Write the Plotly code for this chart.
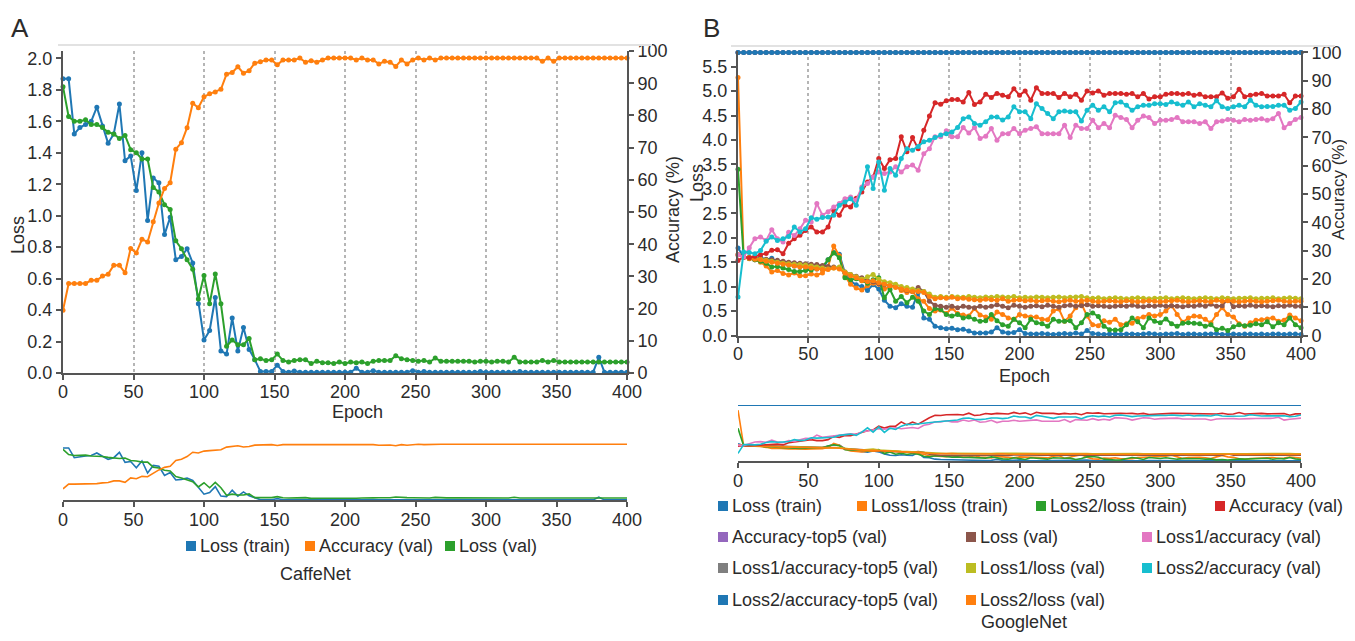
import plotly.graph_objects as go

# The page body has an 8px margin; the figure is sized so the whole page fits the window.
OFF = 8
FW, FH = 1355 - 2 * OFF, 641 - 2 * OFF
def px(x): return (x - OFF) / FW
def py(y): return 1 - (y - OFF) / FH

epochs = list(range(0, 401, 4))

# ---------------- CaffeNet (panel A) ----------------
caffe_loss_train = [
    1.87, 1.87, 1.52, 1.56, 1.58, 1.60, 1.69, 1.57, 1.46, 1.52,
    1.71, 1.35, 1.38, 1.16, 1.40, 0.97, 1.24, 1.21, 0.88, 0.99,
    0.72, 0.74, 0.79, 0.70, 0.44, 0.21, 0.27, 0.48, 0.14, 0.12,
    0.35, 0.14, 0.29, 0.15, 0.085, 0.01, 0.01, 0.01, 0.05, 0.01,
    0.005, 0.012, 0.005, 0.005, 0.005, 0.005, 0.005, 0.005, 0.005, 0.005,
    0.005, 0.005, 0.03, 0.005, 0.005, 0.015, 0.005, 0.005, 0.005, 0.005,
    0.005, 0.005, 0.015, 0.005, 0.01, 0.005, 0.005, 0.005, 0.005, 0.005,
    0.005, 0.005, 0.005, 0.005, 0.01, 0.005, 0.005, 0.005, 0.005, 0.005,
    0.005, 0.01, 0.005, 0.005, 0.005, 0.005, 0.005, 0.005, 0.005, 0.005,
    0.005, 0.005, 0.005, 0.005, 0.005, 0.10, 0.005, 0.005, 0.005, 0.005,
    0.005]
caffe_acc_val = [
    19.5, 27.8, 27.8, 27.8, 27.8, 28.8, 28.8, 30.1, 30.7, 33.5,
    33.5, 31.1, 38.7, 37.3, 41.5, 40.7, 47.0, 52.8, 57.3, 59.1,
    69.5, 71.5, 76.2, 83.8, 82.4, 85.8, 86.7, 87.3, 88.1, 92.8,
    93.3, 95.1, 93.1, 93.9, 96.2, 96.7, 97.2, 97.2, 95.7, 97.2,
    97.2, 97.2, 97.8, 96.5, 97.0, 96.5, 97.2, 97.8, 97.8, 97.8,
    97.8, 97.8, 97.2, 97.8, 97.2, 97.2, 96.0, 96.8, 96.5, 95.2,
    97.2, 96.0, 97.2, 97.8, 97.2, 97.8, 97.2, 97.8, 97.8, 97.8,
    97.8, 97.8, 97.8, 97.8, 97.8, 97.8, 97.8, 97.8, 97.8, 97.8,
    97.8, 97.8, 97.8, 97.8, 97.8, 96.8, 97.8, 96.8, 97.8, 97.8,
    97.8, 97.8, 97.8, 97.8, 97.8, 97.8, 97.8, 97.8, 97.8, 97.8,
    97.8]
caffe_loss_val = [
    1.82, 1.63, 1.60, 1.60, 1.61, 1.58, 1.58, 1.56, 1.53, 1.52,
    1.49, 1.51, 1.42, 1.40, 1.36, 1.36, 1.18, 1.15, 1.07, 1.04,
    0.84, 0.79, 0.72, 0.66, 0.47, 0.62, 0.44, 0.63, 0.44, 0.17,
    0.21, 0.18, 0.18, 0.22, 0.085, 0.09, 0.08, 0.085, 0.12, 0.08,
    0.07, 0.08, 0.085, 0.085, 0.06, 0.075, 0.065, 0.065, 0.06, 0.07,
    0.06, 0.07, 0.065, 0.07, 0.06, 0.075, 0.08, 0.08, 0.08, 0.11,
    0.09, 0.085, 0.08, 0.075, 0.08, 0.07, 0.095, 0.075, 0.075, 0.075,
    0.075, 0.075, 0.075, 0.07, 0.075, 0.075, 0.07, 0.075, 0.075, 0.07,
    0.10, 0.07, 0.07, 0.07, 0.07, 0.08, 0.07, 0.08, 0.07, 0.07,
    0.07, 0.07, 0.07, 0.07, 0.07, 0.07, 0.07, 0.07, 0.07, 0.07,
    0.07]

# ---------------- GoogleNet (panel B) ----------------
gn_loss_train = [
    1.79, 1.61, 1.58, 1.55, 1.60, 1.55, 1.58, 1.50, 1.50, 1.45,
    1.42, 1.42, 1.40, 1.38, 1.36, 1.35, 1.55, 1.70, 1.66, 1.28,
    1.11, 1.04, 1.00, 0.92, 1.04, 0.95, 0.72, 0.60, 0.57, 0.65,
    0.60, 0.58, 0.88, 0.36, 0.33, 0.19, 0.16, 0.14, 0.15, 0.12,
    0.13, 0.09, 0.05, 0.05, 0.05, 0.07, 0.16, 0.07, 0.05, 0.06,
    0.12, 0.04, 0.03, 0.03, 0.04, 0.03, 0.02, 0.03, 0.04, 0.03,
    0.05, 0.03, 0.10, 0.04, 0.03, 0.02, 0.03, 0.03, 0.02, 0.03,
    0.03, 0.02, 0.03, 0.04, 0.03, 0.02, 0.03, 0.03, 0.04, 0.02,
    0.03, 0.03, 0.02, 0.03, 0.03, 0.04, 0.02, 0.03, 0.03, 0.02,
    0.03, 0.03, 0.02, 0.03, 0.02, 0.03, 0.03, 0.02, 0.03, 0.03,
    0.02]
gn_loss1_train = [
    5.28, 1.60, 1.57, 1.55, 1.50, 1.42, 1.30, 1.33, 1.27, 1.24,
    1.28, 1.22, 1.22, 1.26, 1.24, 1.28, 1.40, 1.83, 1.63, 1.21,
    1.05, 0.97, 0.93, 1.02, 1.07, 1.05, 0.95, 1.00, 1.02, 0.92,
    0.88, 0.90, 0.75, 0.70, 0.55, 0.50, 0.52, 0.45, 0.56, 0.45,
    0.42, 0.40, 0.55, 0.42, 0.38, 0.33, 0.48, 0.43, 0.36, 0.33,
    0.43, 0.40, 0.38, 0.38, 0.33, 0.32, 0.50, 0.54, 0.29, 0.40,
    0.57, 0.65, 0.40, 0.22, 0.20, 0.30, 0.27, 0.33, 0.22, 0.24,
    0.25, 0.35, 0.38, 0.43, 0.40, 0.43, 0.50, 0.61, 0.43, 0.27,
    0.36, 0.40, 0.39, 0.33, 0.26, 0.43, 0.57, 0.43, 0.38, 0.24,
    0.19, 0.26, 0.31, 0.32, 0.34, 0.36, 0.29, 0.31, 0.42, 0.36,
    0.30]
gn_loss2_train = [
    3.40, 1.60, 1.58, 1.55, 1.52, 1.48, 1.40, 1.41, 1.38, 1.35,
    1.31, 1.31, 1.33, 1.34, 1.37, 1.41, 1.55, 1.69, 1.59, 1.18,
    1.14, 1.16, 1.12, 1.07, 1.14, 1.18, 0.77, 0.94, 0.70, 0.80,
    0.67, 0.78, 0.70, 0.50, 0.43, 0.55, 0.53, 0.43, 0.40, 0.43,
    0.36, 0.38, 0.33, 0.29, 0.30, 0.43, 0.30, 0.22, 0.19, 0.33,
    0.26, 0.16, 0.33, 0.26, 0.24, 0.19, 0.33, 0.29, 0.29, 0.30,
    0.16, 0.26, 0.43, 0.46, 0.39, 0.19, 0.12, 0.11, 0.12, 0.22,
    0.36, 0.28, 0.16, 0.36, 0.29, 0.26, 0.34, 0.24, 0.19, 0.25,
    0.26, 0.25, 0.24, 0.19, 0.22, 0.12, 0.15, 0.10, 0.18, 0.22,
    0.20, 0.21, 0.24, 0.22, 0.28, 0.18, 0.26, 0.22, 0.36, 0.22,
    0.16]
gn_acc = [
    26.5, 27.7, 27.5, 28.0, 28.5, 29.0, 30.1, 30.3, 28.9, 32.6,
    34.2, 35.4, 37.1, 38.3, 36.6, 36.6, 38.3, 44.2, 42.5, 46.0,
    45.4, 48.5, 50.7, 54.2, 56.0, 62.5, 59.0, 62.1, 62.5, 70.2,
    64.9, 69.9, 66.0, 72.5, 77.5, 82.2, 81.7, 82.9, 83.4, 83.4,
    82.5, 85.8, 81.6, 82.5, 85.2, 84.1, 85.5, 84.9, 84.3, 87.2,
    84.9, 86.4, 83.1, 87.5, 85.5, 85.5, 85.5, 84.1, 85.5, 84.3,
    85.2, 83.1, 86.4, 85.7, 86.4, 84.9, 85.5, 85.5, 85.5, 85.2,
    85.5, 84.3, 85.5, 83.5, 84.3, 84.3, 85.2, 85.5, 85.5, 85.2,
    85.5, 84.9, 85.2, 84.3, 84.3, 84.3, 85.7, 83.8, 84.3, 87.0,
    84.3, 84.9, 85.2, 85.5, 84.6, 84.6, 84.6, 85.2, 82.2, 84.6,
    84.6]
gn_acc_top5 = [
    100, 100, 100, 100, 100, 100, 100, 100, 100, 100,
    100, 100, 100, 100, 100, 100, 100, 100, 100, 100,
    100, 100, 100, 100, 100, 100, 100, 100, 100, 100,
    100, 100, 100, 100, 100, 100, 100, 100, 100, 100,
    100, 100, 100, 100, 100, 100, 100, 100, 100, 100,
    100, 100, 100, 100, 100, 100, 100, 100, 100, 100,
    100, 100, 100, 100, 100, 100, 100, 100, 100, 100,
    100, 100, 100, 100, 100, 100, 100, 100, 100, 100,
    100, 100, 100, 100, 100, 100, 100, 100, 100, 100,
    100, 100, 100, 100, 100, 100, 100, 100, 100, 100,
    100]
gn_loss_val = [
    1.65, 1.61, 1.60, 1.58, 1.57, 1.56, 1.55, 1.54, 1.52, 1.50,
    1.49, 1.48, 1.47, 1.46, 1.45, 1.43, 1.41, 1.40, 1.38, 1.30,
    1.25, 1.21, 1.18, 1.12, 1.10, 1.06, 1.04, 1.02, 1.00, 0.95,
    0.92, 0.90, 0.98, 0.90, 0.70, 0.62, 0.60, 0.58, 0.60, 0.57,
    0.60, 0.58, 0.57, 0.60, 0.58, 0.60, 0.63, 0.60, 0.57, 0.62,
    0.60, 0.58, 0.60, 0.61, 0.59, 0.62, 0.60, 0.58, 0.61, 0.62,
    0.60, 0.61, 0.63, 0.60, 0.61, 0.60, 0.59, 0.60, 0.61, 0.60,
    0.62, 0.60, 0.59, 0.61, 0.60, 0.62, 0.60, 0.61, 0.60, 0.59,
    0.61, 0.60, 0.62, 0.60, 0.64, 0.60, 0.61, 0.75, 0.59, 0.61,
    0.60, 0.62, 0.60, 0.61, 0.60, 0.59, 0.61, 0.60, 0.62, 0.60,
    0.60]
gn_loss1_acc = [
    28.5, 27.7, 31.0, 34.2, 34.8, 33.6, 37.4, 34.2, 33.0, 36.5,
    35.3, 37.7, 40.7, 40.1, 46.6, 42.5, 43.7, 45.4, 46.6, 48.3,
    48.9, 47.8, 52.5, 53.7, 56.0, 57.8, 57.2, 57.8, 59.6, 57.8,
    59.6, 60.2, 58.4, 64.2, 66.0, 70.2, 70.2, 72.3, 70.2, 70.2,
    73.5, 71.5, 73.5, 69.6, 70.4, 73.1, 69.0, 71.3, 71.3, 73.1,
    71.3, 72.5, 73.1, 73.7, 71.3, 71.3, 71.3, 71.3, 74.3, 69.9,
    74.3, 73.1, 73.1, 76.0, 73.4, 74.9, 73.4, 77.8, 77.0, 76.3,
    73.4, 76.0, 77.5, 77.0, 74.9, 76.0, 76.0, 76.3, 77.0, 75.5,
    75.5, 75.5, 74.9, 75.5, 73.1, 75.5, 75.8, 76.3, 76.0, 75.5,
    76.3, 76.0, 76.3, 76.6, 76.0, 76.6, 78.4, 73.4, 74.9, 76.3,
    77.0]
gn_loss1_acc_top5 = [
    100, 100, 100, 100, 100, 100, 100, 100, 100, 100,
    100, 100, 100, 100, 100, 100, 100, 100, 100, 100,
    100, 100, 100, 100, 100, 100, 100, 100, 100, 100,
    100, 100, 100, 100, 100, 100, 100, 100, 100, 100,
    100, 100, 100, 100, 100, 100, 100, 100, 100, 100,
    100, 100, 100, 100, 100, 100, 100, 100, 100, 100,
    100, 100, 100, 100, 100, 100, 100, 100, 100, 100,
    100, 100, 100, 100, 100, 100, 100, 100, 100, 100,
    100, 100, 100, 100, 100, 100, 100, 100, 100, 100,
    100, 100, 100, 100, 100, 100, 100, 100, 100, 100,
    100]
gn_loss1_loss_val = [
    1.65, 1.61, 1.60, 1.58, 1.56, 1.54, 1.52, 1.50, 1.48, 1.47,
    1.46, 1.45, 1.44, 1.42, 1.40, 1.38, 1.36, 1.38, 1.40, 1.30,
    1.25, 1.20, 1.15, 1.20, 1.25, 1.15, 1.10, 1.08, 1.05, 1.00,
    0.98, 0.95, 0.92, 0.90, 0.85, 0.78, 0.80, 0.78, 0.80, 0.79,
    0.78, 0.80, 0.78, 0.77, 0.79, 0.78, 0.80, 0.79, 0.78, 0.80,
    0.77, 0.78, 0.77, 0.79, 0.78, 0.77, 0.78, 0.79, 0.77, 0.78,
    0.79, 0.80, 0.77, 0.76, 0.77, 0.75, 0.76, 0.77, 0.76, 0.75,
    0.76, 0.77, 0.76, 0.75, 0.76, 0.76, 0.77, 0.75, 0.76, 0.77,
    0.76, 0.75, 0.76, 0.77, 0.76, 0.75, 0.77, 0.76, 0.75, 0.76,
    0.76, 0.77, 0.75, 0.76, 0.76, 0.77, 0.75, 0.76, 0.77, 0.76,
    0.75]
gn_loss2_acc = [
    13.6, 29.5, 29.3, 28.9, 30.0, 33.3, 34.8, 33.6, 34.2, 35.0,
    38.3, 36.6, 37.7, 41.6, 41.1, 41.7, 41.9, 42.5, 46.0, 47.2,
    48.3, 46.0, 51.9, 59.6, 51.9, 61.3, 51.3, 59.0, 56.6, 62.5,
    66.0, 65.4, 66.8, 68.4, 69.0, 69.9, 70.8, 71.3, 71.9, 73.5,
    76.6, 77.2, 74.9, 74.3, 75.5, 77.2, 77.2, 76.1, 77.2, 80.8,
    79.0, 79.0, 76.6, 81.9, 80.2, 78.4, 76.6, 79.0, 79.3, 79.0,
    79.0, 75.8, 79.6, 81.3, 79.6, 80.8, 79.0, 82.2, 82.5, 81.3,
    79.6, 80.8, 81.3, 81.3, 81.9, 81.9, 81.6, 82.5, 81.9, 81.3,
    82.5, 80.8, 81.9, 81.3, 80.8, 82.9, 80.8, 80.2, 80.8, 81.3,
    80.8, 83.1, 81.3, 80.8, 80.9, 80.9, 81.3, 81.3, 79.6, 80.2,
    82.5]
gn_loss2_acc_top5 = [
    100, 100, 100, 100, 100, 100, 100, 100, 100, 100,
    100, 100, 100, 100, 100, 100, 100, 100, 100, 100,
    100, 100, 100, 100, 100, 100, 100, 100, 100, 100,
    100, 100, 100, 100, 100, 100, 100, 100, 100, 100,
    100, 100, 100, 100, 100, 100, 100, 100, 100, 100,
    100, 100, 100, 100, 100, 100, 100, 100, 100, 100,
    100, 100, 100, 100, 100, 100, 100, 100, 100, 100,
    100, 100, 100, 100, 100, 100, 100, 100, 100, 100,
    100, 100, 100, 100, 100, 100, 100, 100, 100, 100,
    100, 100, 100, 100, 100, 100, 100, 100, 100, 100,
    100]
gn_loss2_loss_val = [
    1.65, 1.60, 1.58, 1.56, 1.55, 1.52, 1.50, 1.48, 1.46, 1.44,
    1.42, 1.40, 1.40, 1.38, 1.36, 1.35, 1.35, 1.38, 1.36, 1.28,
    1.22, 1.18, 1.12, 1.10, 1.12, 1.08, 1.05, 1.02, 0.98, 0.95,
    0.93, 0.90, 0.90, 0.88, 0.80, 0.75, 0.77, 0.76, 0.78, 0.75,
    0.76, 0.74, 0.73, 0.72, 0.74, 0.73, 0.72, 0.75, 0.70, 0.72,
    0.73, 0.71, 0.72, 0.70, 0.71, 0.72, 0.70, 0.69, 0.71, 0.72,
    0.70, 0.71, 0.72, 0.70, 0.69, 0.70, 0.71, 0.70, 0.69, 0.71,
    0.70, 0.69, 0.70, 0.71, 0.70, 0.69, 0.70, 0.71, 0.72, 0.70,
    0.69, 0.70, 0.71, 0.70, 0.69, 0.72, 0.70, 0.71, 0.70, 0.69,
    0.70, 0.71, 0.70, 0.69, 0.70, 0.71, 0.72, 0.70, 0.69, 0.70,
    0.70]

tick_epochs = [0, 50, 100, 150, 200, 250, 300, 350, 400]

BLUE, ORANGE, GREEN, RED = "#1f77b4", "#ff7f0e", "#2ca02c", "#d62728"
PURPLE, BROWN, PINK, GRAY = "#9467bd", "#8c564b", "#e377c2", "#7f7f7f"
OLIVE, CYAN = "#bcbd22", "#17becf"

caffe_series = [
    ("Loss (train)", caffe_loss_train, BLUE, "L"),
    ("Accuracy (val)", caffe_acc_val, ORANGE, "R"),
    ("Loss (val)", caffe_loss_val, GREEN, "L"),
]
gn_series = [
    ("Loss (train)", gn_loss_train, BLUE, "L"),
    ("Loss1/loss (train)", gn_loss1_train, ORANGE, "L"),
    ("Loss2/loss (train)", gn_loss2_train, GREEN, "L"),
    ("Accuracy (val)", gn_acc, RED, "R"),
    ("Accuracy-top5 (val)", gn_acc_top5, PURPLE, "R"),
    ("Loss (val)", gn_loss_val, BROWN, "L"),
    ("Loss1/accuracy (val)", gn_loss1_acc, PINK, "R"),
    ("Loss1/accuracy-top5 (val)", gn_loss1_acc_top5, GRAY, "R"),
    ("Loss1/loss (val)", gn_loss1_loss_val, OLIVE, "L"),
    ("Loss2/accuracy (val)", gn_loss2_acc, CYAN, "R"),
    ("Loss2/accuracy-top5 (val)", gn_loss2_acc_top5, BLUE, "R"),
    ("Loss2/loss (val)", gn_loss2_loss_val, ORANGE, "L"),
]
for _, vals, _, _ in caffe_series + gn_series:
    if len(vals) != len(epochs):
        raise ValueError("length mismatch %d" % len(vals))

fig = go.Figure()

def add(series, xa, ya_l, ya_r, main):
    for name, vals, col, side in series:
        fig.add_trace(go.Scatter(
            x=epochs, y=vals, name=name,
            mode="lines+markers" if main else "lines",
            line=dict(color=col, width=2 if main else 1.6),
            marker=dict(color=col, size=5),
            xaxis=xa, yaxis=ya_l if side == "L" else ya_r,
            showlegend=False, cliponaxis=False if main else True,
            hoverinfo="x+y+name"))

add(caffe_series, "x", "y", "y2", True)
add(gn_series, "x2", "y3", "y4", True)
add(caffe_series, "x3", "y5", "y6", False)
add(gn_series, "x4", "y7", "y8", False)

AX = "#555555"
TXT = "#2b2b2b"
FONT = "Liberation Sans, Arial, sans-serif"
tf = dict(family=FONT, size=18, color=TXT)

def xmain(dom, anchor):
    return dict(domain=dom, anchor=anchor, range=[0, 400], tickvals=tick_epochs,
                showgrid=True, gridcolor="#b5b5b5", griddash="dot", gridwidth=1.5,
                zeroline=False, showline=True, linecolor=AX, linewidth=2,
                ticks="outside", ticklen=5, tickcolor=AX, tickwidth=1.5,
                tickfont=tf, fixedrange=True, automargin=False,
                ticklabelstandoff=-4)

def xmini(dom, anchor):
    return dict(domain=dom, anchor=anchor, range=[0, 400], tickvals=tick_epochs,
                showgrid=False, zeroline=False, showline=True, linecolor=AX,
                linewidth=2, ticks="outside", ticklen=5, tickcolor=AX,
                tickwidth=1.5, tickfont=tf, fixedrange=True, automargin=False,
                ticklabelstandoff=-3)

def yax(dom, anchor, rng, dtick, fmt, side="left", overlay=None, visible=True):
    d = dict(domain=dom, anchor=anchor, range=rng, dtick=dtick, tick0=0,
             tickformat=fmt, side=side, showgrid=False, zeroline=False,
             showline=True, linecolor=AX, linewidth=2, ticks="outside",
             ticklen=5, tickcolor=AX, tickwidth=1.5, tickfont=tf,
             visible=visible, fixedrange=True, automargin=False)
    if overlay:
        d["overlaying"] = overlay
    return d

A_x = [px(63), px(627)]
B_x = [px(738), px(1301)]
A_y = [py(373), py(51)]
B_y = [py(335.5), py(51)]
Am_y = [py(500), py(443)]
Bm_y = [py(461), py(405)]

fig.update_layout(
    width=FW, height=FH, margin=dict(l=0, r=0, t=0, b=0, autoexpand=False),
    paper_bgcolor="white", plot_bgcolor="rgba(0,0,0,0)",
    showlegend=False, font=dict(family=FONT, color=TXT),
    xaxis=xmain(A_x, "y"),
    yaxis=yax(A_y, "x", [0, 2.047], 0.2, ".1f"),
    yaxis2=yax(A_y, "x", [0, 100], 10, "d", side="right", overlay="y"),
    xaxis2=xmain(B_x, "y3"),
    yaxis3=yax(B_y, "x2", [0, 5.82], 0.5, ".1f"),
    yaxis4=yax(B_y, "x2", [0, 100.5], 10, "d", side="right", overlay="y3"),
    xaxis3=xmini(A_x, "y5"),
    yaxis5=yax(Am_y, "x3", [0, 2.047], 0.5, ".1f", visible=False),
    yaxis6=yax(Am_y, "x3", [0, 100], 10, "d", side="right", overlay="y5", visible=False),
    xaxis4=xmini(B_x, "y7"),
    yaxis7=yax(Bm_y, "x4", [0, 5.82], 0.5, ".1f", visible=False),
    yaxis8=yax(Bm_y, "x4", [0, 100.5], 10, "d", side="right", overlay="y7", visible=False),
)

ann = []
shapes = []

def text(x, y, s, size=18, angle=0, xanchor="center"):
    ann.append(dict(x=px(x), y=py(y), xref="paper", yref="paper", text=s,
                    showarrow=False, textangle=angle, xanchor=xanchor,
                    yanchor="middle", font=dict(family=FONT, size=size, color=TXT)))

text(20, 28, "A", size=26)
text(711, 28, "B", size=26)
text(18, 235, "Loss", angle=-90)
text(673, 210, "Accuracy (%)", angle=-90)
text(357, 412, "Epoch")
text(697, 183, "Loss", angle=-90)
text(1338, 190, "Accuracy (%)", size=17, angle=-90)
text(1024, 376, "Epoch")
text(315, 574, "CaffeNet")
text(1024, 622, "GoogleNet")

# top border lines of the plot groups
shapes.append(dict(type="line", xref="paper", yref="paper", x0=px(58), x1=px(652),
                   y0=py(45), y1=py(45), line=dict(color="#e2e2e2", width=2)))
shapes.append(dict(type="line", xref="paper", yref="paper", x0=px(731), x1=px(1335),
                   y0=py(46), y1=py(46), line=dict(color="#e2e2e2", width=2)))

def legend_entry(x, y, name, col):
    shapes.append(dict(type="rect", xref="paper", yref="paper",
                       x0=px(x), x1=px(x + 10), y0=py(y + 5), y1=py(y - 5),
                       fillcolor=col, line=dict(width=0)))
    ann.append(dict(x=px(x + 12), y=py(y), xref="paper", yref="paper", text=name,
                    showarrow=False, xanchor="left", yanchor="middle",
                    font=dict(family=FONT, size=18, color=TXT)))

legend_entry(186, 546, "Loss (train)", BLUE)
legend_entry(305, 546, "Accuracy (val)", ORANGE)
legend_entry(445, 546, "Loss (val)", GREEN)

gn_legend_pos = [
    (718, 506), (857, 506), (1036, 506), (1215, 506),
    (718, 537), (966, 537), (1142, 537),
    (718, 568), (966, 568), (1142, 568),
    (718, 600), (966, 600),
]
for (name, _, col, _), (lx, ly) in zip(gn_series, gn_legend_pos):
    legend_entry(lx, ly, name, col)

fig.update_layout(annotations=ann, shapes=shapes)
fig.write_html("out.html")
